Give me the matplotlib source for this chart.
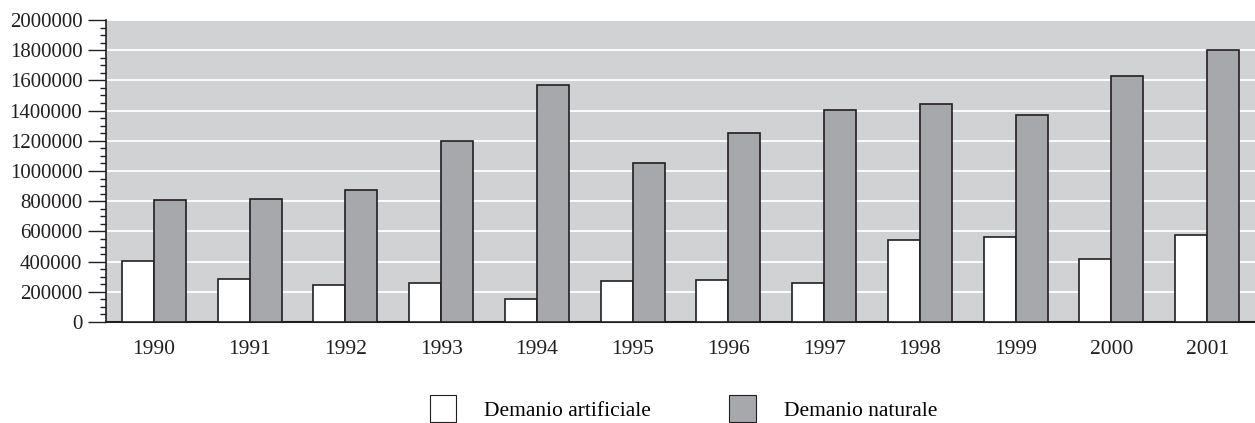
import matplotlib
matplotlib.use("Agg")
import matplotlib.pyplot as plt
import numpy as np
from matplotlib.patches import Patch
from matplotlib.ticker import MultipleLocator

years = ['1990', '1991', '1992', '1993', '1994', '1995',
         '1996', '1997', '1998', '1999', '2000', '2001']
artificiale = [404000, 284000, 248000, 255000, 155000, 270000,
               279000, 259000, 540000, 566000, 418000, 574000]
naturale = [808000, 815000, 875000, 1200000, 1570000, 1050000,
            1250000, 1405000, 1445000, 1370000, 1632000, 1804000]

plt.rcParams['font.family'] = ['Liberation Serif', 'DejaVu Serif']

edge = '#231f20'
fig = plt.figure(figsize=(12.55, 4.23), dpi=100)
ax = fig.add_axes([106 / 1255, 101 / 423, 1 - 106 / 1255, 302 / 423])
ax.set_facecolor('#d1d2d4')

x = np.arange(len(years))
w = 0.335
ax.bar(x - w / 2, artificiale, w, color='white', edgecolor=edge, linewidth=1.2, zorder=3)
ax.bar(x + w / 2, naturale, w, color='#a7a8ab', edgecolor=edge, linewidth=1.2, zorder=3)

ax.set_xlim(-0.5, len(years) - 0.5)
ax.set_ylim(0, 2000000)
ax.yaxis.set_major_locator(MultipleLocator(200000))
ax.yaxis.set_minor_locator(MultipleLocator(50000))
ax.grid(axis='y', which='major', color='white', linewidth=1.3, zorder=1)
ax.set_axisbelow(True)

ax.set_xticks(x)
ax.set_xticklabels(years)
ax.tick_params(axis='x', length=0, pad=13, labelsize=15.5, colors='#231f20')
ax.tick_params(axis='y', which='major', length=13, width=1, pad=4, labelsize=15, colors=edge)
ax.tick_params(axis='y', which='minor', length=4.5, width=1, colors=edge)
ax.yaxis.set_major_formatter(matplotlib.ticker.FuncFormatter(lambda v, p: f'{int(v)}'))

for s in ['top', 'right']:
    ax.spines[s].set_visible(False)
ax.spines['left'].set_color(edge)
ax.spines['left'].set_linewidth(1.2)
ax.spines['bottom'].set_color(edge)
ax.spines['bottom'].set_linewidth(1.5)

handles = [Patch(facecolor='white', edgecolor=edge, linewidth=0.8, label='Demanio artificiale'),
           Patch(facecolor='#a7a8ab', edgecolor=edge, linewidth=0.8, label='Demanio naturale')]
fig.legend(handles=handles, loc='center', bbox_to_anchor=(0.5445, 14.5 / 423),
           ncol=2, frameon=False, fontsize=15.5, handlelength=1.25, handleheight=1.55,
           handletextpad=1.3, columnspacing=3.6, borderaxespad=0, borderpad=0)

fig.savefig('out.png', dpi=100)
